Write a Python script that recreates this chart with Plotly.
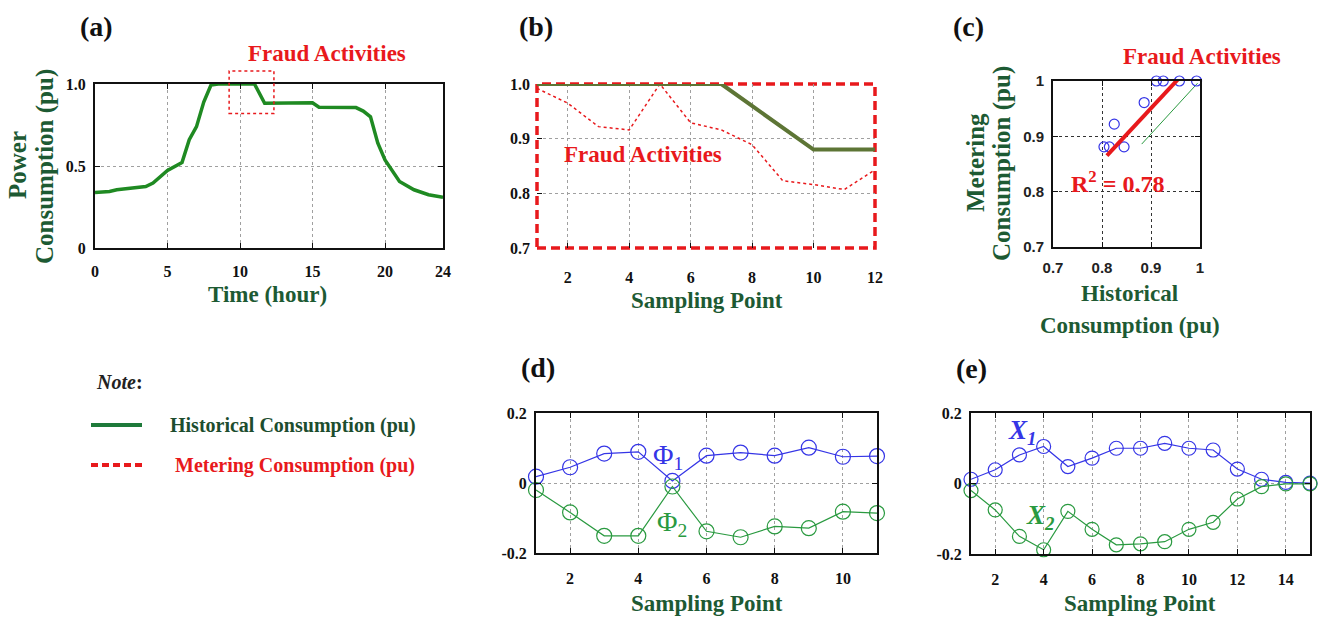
import plotly.graph_objects as go

W, H = 1325, 618

# ---------------- data ----------------
# (a) daily profile
hours = [0, 1, 1.5, 2, 3, 3.5, 4, 5, 6, 6.5, 7, 7.5, 8, 8.5, 11, 11.7, 15, 15.45, 18, 18.5, 19, 19.5, 20, 21, 22, 23, 24]
power = [0.339, 0.345, 0.355, 0.361, 0.371, 0.375, 0.396, 0.473, 0.521, 0.66, 0.74, 0.89, 0.994, 1.0, 1.0,
         0.882, 0.886, 0.858, 0.856, 0.835, 0.80, 0.64, 0.537, 0.406, 0.355, 0.325, 0.31]
fraud_box_a = [9.25, 12.34, 0.82, 1.08]

# (b) zoomed sampling points
sp_b = [1, 2, 3, 4, 5, 6, 7, 8, 9, 10, 11, 12]
hist_b = [1, 1, 1, 1, 1, 1, 1, 0.96, 0.92, 0.88, 0.88, 0.88]
meter_b = [0.992, 0.965, 0.922, 0.916, 1.0, 0.929, 0.916, 0.889, 0.823, 0.816, 0.807, 0.843]

# (c) scatter
hist_c = [0.911, 0.925, 0.958, 0.993, 0.886, 0.825, 0.804, 0.815, 0.845]
meter_c = [1.0, 1.0, 1.0, 1.0, 0.961, 0.922, 0.881, 0.881, 0.881]
fit_x = [0.81, 0.956]
fit_y = [0.865, 1.004]
ref_x = [0.881, 0.995]
ref_y = [0.886, 0.996]

# (d)
sp_d = list(range(1, 12))
phi1 = [0.018, 0.045, 0.084, 0.089, 0.006, 0.078, 0.087, 0.078, 0.101, 0.075, 0.077]
phi2 = [-0.02, -0.084, -0.151, -0.151, -0.01, -0.138, -0.155, -0.124, -0.129, -0.082, -0.086]

# (e)
sp_e = list(range(1, 16))
x1 = [0.012, 0.039, 0.081, 0.105, 0.048, 0.072, 0.10, 0.10, 0.114, 0.10, 0.095, 0.041, 0.012, 0.003, 0.001]
x2 = [-0.02, -0.075, -0.15, -0.188, -0.079, -0.13, -0.174, -0.171, -0.165, -0.13, -0.11, -0.044, -0.009, -0.001, -0.001]

# ---------------- style ----------------
SERIF = "Liberation Serif, Times New Roman, DejaVu Serif, serif"
NARROW = "Liberation Sans Narrow, Liberation Sans, Arial, sans-serif"
DKGREEN = "#1d5a33"
GREEN_A = "#1f8a22"
OLIVE = "#5d7535"
RED = "#e8191c"
BLUE = "#3535e6"
GREEN_D = "#2a9a40"


def px(x):
    return x / W


def py(y):
    return 1 - y / H


fig = go.Figure()

# (a)
fig.add_trace(go.Scatter(x=hours, y=power, mode="lines", line=dict(color=GREEN_A, width=3.5),
                         xaxis="x", yaxis="y", showlegend=False))
# (b)
fig.add_trace(go.Scatter(x=sp_b, y=meter_b, mode="lines", line=dict(color=RED, width=1.5, dash="dot"),
                         xaxis="x2", yaxis="y2", showlegend=False))
fig.add_trace(go.Scatter(x=sp_b, y=hist_b, mode="lines", line=dict(color=OLIVE, width=4),
                         xaxis="x2", yaxis="y2", showlegend=False))
# (c)
fig.add_trace(go.Scatter(x=ref_x, y=ref_y, mode="lines", line=dict(color=GREEN_D, width=1),
                         xaxis="x3", yaxis="y3", showlegend=False))
fig.add_trace(go.Scatter(x=hist_c, y=meter_c, mode="markers",
                         marker=dict(symbol="circle-open", size=10, color=BLUE, line=dict(width=1.2)),
                         xaxis="x3", yaxis="y3", showlegend=False, cliponaxis=False))
fig.add_trace(go.Scatter(x=fit_x, y=fit_y, mode="lines", line=dict(color=RED, width=4),
                         xaxis="x3", yaxis="y3", showlegend=False))
# (d)
fig.add_trace(go.Scatter(x=sp_d, y=phi1, mode="lines+markers", line=dict(color=BLUE, width=1.2),
                         marker=dict(symbol="circle-open", size=15, color=BLUE, line=dict(width=1.2)),
                         xaxis="x4", yaxis="y4", showlegend=False, cliponaxis=False))
fig.add_trace(go.Scatter(x=sp_d, y=phi2, mode="lines+markers", line=dict(color=GREEN_D, width=1.2),
                         marker=dict(symbol="circle-open", size=15, color=GREEN_D, line=dict(width=1.2)),
                         xaxis="x4", yaxis="y4", showlegend=False, cliponaxis=False))
# (e)
fig.add_trace(go.Scatter(x=sp_e, y=x1, mode="lines+markers", line=dict(color=BLUE, width=1.2),
                         marker=dict(symbol="circle-open", size=14, color=BLUE, line=dict(width=1.2)),
                         xaxis="x5", yaxis="y5", showlegend=False, cliponaxis=False))
fig.add_trace(go.Scatter(x=sp_e, y=x2, mode="lines+markers", line=dict(color=GREEN_D, width=1.2),
                         marker=dict(symbol="circle-open", size=14, color=GREEN_D, line=dict(width=1.2)),
                         xaxis="x5", yaxis="y5", showlegend=False, cliponaxis=False))

tickfont = dict(family=SERIF, size=16, color="#111", weight="bold")
narrowfont = dict(family=NARROW, size=15, color="#222", weight="bold")


def ax(domain, rng, tickvals, ticktext, anchor, grid=True, frame=True, griddash="dot",
       gridcolor="#a0a0a0", standoff=6, tfont=tickfont):
    return dict(domain=domain, range=rng, tickvals=tickvals, ticktext=ticktext, anchor=anchor,
                showgrid=grid, gridcolor=gridcolor, griddash=griddash, gridwidth=1,
                showline=frame, linecolor="#111", linewidth=2, mirror="ticks" if frame else False,
                ticks="inside", ticklen=5, tickcolor="#111", tickfont=tfont,
                ticklabelstandoff=standoff, zeroline=False, fixedrange=True, automargin=False)


layout = dict(
    template="none",
    width=W, height=H, autosize=False,
    margin=dict(l=0, r=0, t=0, b=0, pad=0, autoexpand=False),
    paper_bgcolor="white", plot_bgcolor="white",
    font=dict(family=SERIF),
    # (a)
    xaxis=ax([px(95), px(443)], [0, 24], [0, 5, 10, 15, 20, 24], ["0", "5", "10", "15", "20", "24"], "y",
             standoff=8),
    yaxis=ax([py(248), py(84)], [0, 1], [0, 0.5, 1], ["0", "0.5", "1.0"], "x", standoff=4),
    # (b)
    xaxis2=ax([px(537), px(875)], [1, 12], [2, 4, 6, 8, 10, 12], ["2", "4", "6", "8", "10", "12"], "y2",
              frame=False, standoff=18),
    yaxis2=ax([py(248), py(84)], [0.7, 1.0], [0.7, 0.8, 0.9, 1.0], ["0.7", "0.8", "0.9", "1.0"], "x2",
              frame=False, standoff=6),
    # (c)
    xaxis3=ax([px(1053), px(1200)], [0.7, 1.0], [0.7, 0.8, 0.9, 1.0], ["0.7", "0.8", "0.9", "1"], "y3",
              griddash="3px,3px", gridcolor="#333", standoff=6, tfont=narrowfont),
    yaxis3=ax([py(247), py(81)], [0.7, 1.0], [0.7, 0.8, 0.9, 1.0], ["0.7", "0.8", "0.9", "1"], "x3",
              griddash="3px,3px", gridcolor="#333", standoff=4, tfont=narrowfont),
    # (d)
    xaxis4=ax([px(536), px(877)], [1, 11], [2, 4, 6, 8, 10], ["2", "4", "6", "8", "10"], "y4", standoff=10),
    yaxis4=ax([py(553), py(413)], [-0.2, 0.2], [-0.2, 0, 0.2], ["-0.2", "0", "0.2"], "x4", standoff=4),
    # (e)
    xaxis5=ax([px(971), px(1310)], [1, 15], [2, 4, 6, 8, 10, 12, 14], ["2", "4", "6", "8", "10", "12", "14"],
              "y5", standoff=10),
    yaxis5=ax([py(554), py(413)], [-0.2, 0.2], [-0.2, 0, 0.2], ["-0.2", "0", "0.2"], "x5", standoff=4),
)
fig.update_layout(**layout)

# shapes
shapes = [
    # fraud box in (a)
    dict(type="rect", xref="x", yref="y domain", x0=fraud_box_a[0], x1=fraud_box_a[1],
         y0=fraud_box_a[2], y1=fraud_box_a[3], line=dict(color=RED, width=1.5, dash="dot")),
    # fraud frame in (b), drawn beneath the lines
    dict(type="rect", xref="x2 domain", yref="y2 domain", x0=0, x1=1, y0=0, y1=1, layer="below",
         line=dict(color=RED, width=3.5, dash="9px,5px")),
    # note legend lines
    dict(type="line", xref="paper", yref="paper", x0=px(91), x1=px(142), y0=py(425), y1=py(425),
         line=dict(color="#1e7a3a", width=4)),
    dict(type="line", xref="paper", yref="paper", x0=px(91), x1=px(142), y0=py(465), y1=py(465),
         line=dict(color=RED, width=4, dash="7px,4px")),
]
fig.update_layout(shapes=shapes)


def ann(text, x, y, size, color, angle=0, xanchor="center", weight="bold", style="normal"):
    return dict(text=text, x=px(x), y=py(y), xref="paper", yref="paper", showarrow=False,
                xanchor=xanchor, yanchor="middle", textangle=angle,
                font=dict(family=SERIF, size=size, color=color, weight=weight, style=style))


annotations = [
    # panel labels
    ann("(a)", 96, 26, 28, "#111"),
    ann("(b)", 536, 26, 28, "#111"),
    ann("(c)", 968, 26, 28, "#111"),
    ann("(d)", 538, 367, 28, "#111"),
    ann("(e)", 971, 368, 28, "#111"),
    # (a) titles
    ann("Power", 17, 165, 25, DKGREEN, angle=-90),
    ann("Consumption (pu)", 45, 167, 25, DKGREEN, angle=-90),
    ann("Time (hour)", 267, 295, 23, DKGREEN),
    ann("Fraud Activities", 327, 53, 23, RED),
    # (b)
    ann("Sampling Point", 707, 300, 23, DKGREEN),
    ann("Fraud Activities", 643, 155, 23, RED),
    # (c)
    ann("Metering", 975, 162, 25, DKGREEN, angle=-90),
    ann("Consumption (pu)", 1002, 164, 25, DKGREEN, angle=-90),
    ann("Historical", 1129, 293, 23, DKGREEN),
    ann("Consumption (pu)", 1130, 325, 23, DKGREEN),
    ann("Fraud Activities", 1202, 56, 23, RED),
    ann("R<sup>2</sup> = 0.78", 1117, 182, 24, RED),
    # (d)
    ann("Sampling Point", 707, 603, 23, DKGREEN),
    ann("Φ<sub>1</sub>", 668, 456, 28, BLUE, weight="normal"),
    ann("Φ<sub>2</sub>", 672, 523, 28, GREEN_D, weight="normal"),
    # (e)
    ann("Sampling Point", 1140, 603, 23, DKGREEN),
    ann("X<sub>1</sub>", 1022, 432, 27, BLUE, style="italic"),
    ann("X<sub>2</sub>", 1040, 517, 27, GREEN_D, style="italic"),
    # note
    ann("<i>Note</i>:", 120, 382, 20, "#222"),
    ann("Historical Consumption (pu)", 168, 425, 20, "#1d4d2e", xanchor="left"),
    ann("Metering Consumption (pu)", 173, 465, 20, RED, xanchor="left"),
]
fig.update_layout(annotations=annotations)

fig.write_html("out.html", config={"displayModeBar": False},
               post_script="document.body.style.margin='0px';")
